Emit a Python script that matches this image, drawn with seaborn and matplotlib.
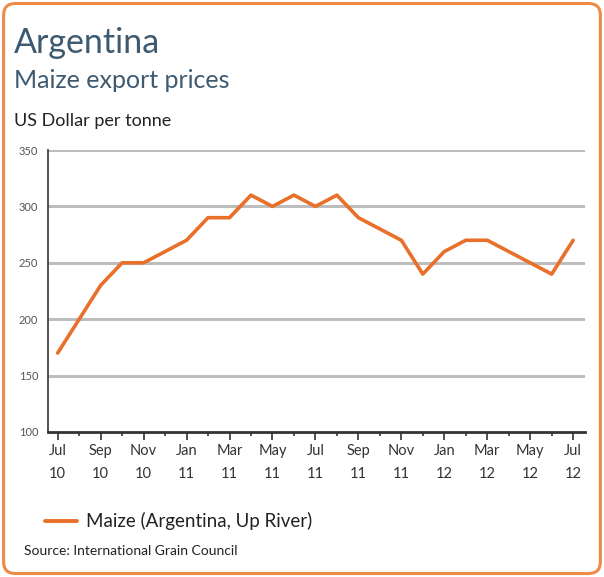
import seaborn as sns
import matplotlib.pyplot as plt
import pandas as pd
from matplotlib.patches import FancyBboxPatch
from matplotlib.lines import Line2D

# Monthly maize export prices, Jul 2010 - Jul 2012
months = ['Jul 10', 'Aug 10', 'Sep 10', 'Oct 10', 'Nov 10', 'Dec 10',
          'Jan 11', 'Feb 11', 'Mar 11', 'Apr 11', 'May 11', 'Jun 11',
          'Jul 11', 'Aug 11', 'Sep 11', 'Oct 11', 'Nov 11', 'Dec 11',
          'Jan 12', 'Feb 12', 'Mar 12', 'Apr 12', 'May 12', 'Jun 12', 'Jul 12']
prices = [170, 200, 230, 250, 250, 260,
          270, 290, 290, 310, 300, 310,
          300, 310, 290, 280, 270, 240,
          260, 270, 270, 260, 250, 240, 270]
tick_labels = ['Jul\n10', 'Sep\n10', 'Nov\n10', 'Jan\n11', 'Mar\n11', 'May\n11', 'Jul\n11',
               'Sep\n11', 'Nov\n11', 'Jan\n12', 'Mar\n12', 'May\n12', 'Jul\n12']
y_ticks = [100, 150, 200, 250, 300, 350]

df = pd.DataFrame({'idx': range(len(months)), 'month': months, 'price': prices})

sns.set_style('white')
plt.rcParams['font.family'] = ['Lato', 'DejaVu Sans']

line_color = '#E8702A'
title_color = '#3E5A70'

fig = plt.figure(figsize=(6.04, 5.77), dpi=100)
ax = fig.add_axes([0.0795, 0.2513, 0.889, 0.4887])

# grid lines
for v in y_ticks[1:]:
    ax.axhline(v, color='#BDBDBD', lw=2.2, zorder=0)

sns.lineplot(data=df, x='idx', y='price', color=line_color, lw=2.6, ax=ax, zorder=3)

ax.set_xlim(-0.45, 24.55)
ax.set_ylim(100, 350)
ax.set_xticks(range(0, 25, 2))
ax.set_xticklabels(tick_labels, fontsize=10.5, color='#333333', linespacing=1.75)
ax.set_xticks(range(1, 25, 2), minor=True)
ax.set_yticks(y_ticks)
ax.set_yticklabels([str(v) for v in y_ticks], fontsize=8, color='#555555')
ax.set_xlabel('')
ax.set_ylabel('')
ax.tick_params(axis='x', which='major', direction='out', length=6, width=1.2, color='#333333', pad=3)
ax.tick_params(axis='x', which='minor', direction='out', length=3, width=1.2, color='#333333')
ax.tick_params(axis='y', length=0, pad=7)
ax.tick_params(axis='x', bottom=True, which='both')

for s in ['top', 'right']:
    ax.spines[s].set_visible(False)
ax.spines['left'].set_color('#444444')
ax.spines['left'].set_linewidth(1.3)
ax.spines['bottom'].set_color('#333333')
ax.spines['bottom'].set_linewidth(2)

# titles
fig.text(0.023, 0.908, 'Argentina', fontsize=24.5, color=title_color, va='baseline')
fig.text(0.023, 0.847, 'Maize export prices', fontsize=18, color=title_color, va='baseline')
fig.text(0.023, 0.782, 'US Dollar per tonne', fontsize=13, color='#222222', va='baseline')

# legend
fig.add_artist(Line2D([0.075, 0.128], [0.097, 0.097], transform=fig.transFigure,
                      color=line_color, lw=2.8))
fig.text(0.142, 0.097, 'Maize (Argentina, Up River)', fontsize=13.5, color='#222222', va='center')
fig.text(0.04, 0.045, 'Source: International Grain Council', fontsize=10, color='#222222', va='center')

# rounded orange frame
frame = FancyBboxPatch((0.006, 0.006), 0.988, 0.988, boxstyle='round,pad=0,rounding_size=0.02',
                       transform=fig.transFigure, fill=False, edgecolor='#EE8A48', lw=2.2)
fig.add_artist(frame)

fig.savefig('out.png', dpi=100)
